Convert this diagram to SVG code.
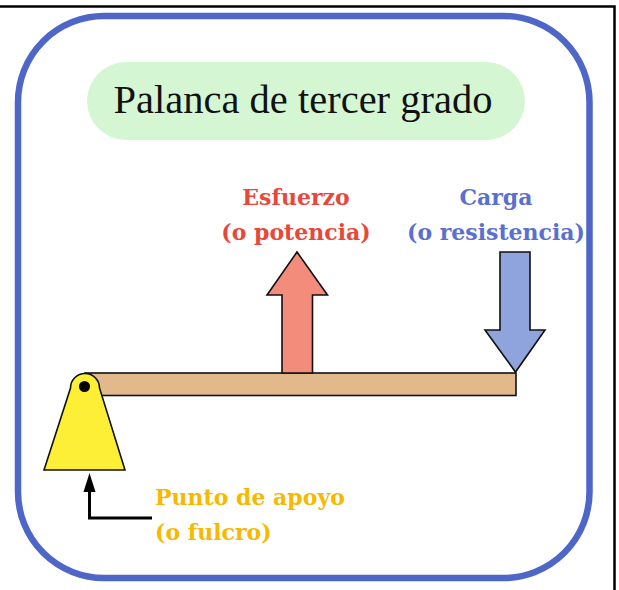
<svg xmlns="http://www.w3.org/2000/svg" width="619" height="590" viewBox="0 0 619 590">
<style>
.lbl{font-family:"DejaVu Serif",serif;font-weight:bold;font-size:22px;text-anchor:middle}
.lbl.start{text-anchor:start}
.shape{stroke:#111;stroke-width:1.6;stroke-linejoin:miter}
</style>
<rect width="619" height="590" fill="#ffffff"/>
<g id="frame">
<path d="M0,6.5 H614.5 V590" fill="none" stroke="#000" stroke-width="2.5"/>
</g>
<g id="border">
<rect x="18" y="16" width="571.5" height="562" rx="86" ry="86" fill="none" stroke="#4f66c9" stroke-width="6.5"/>
</g>
<g id="title">
<rect x="87" y="62" width="438" height="78" rx="39" ry="39" fill="#d5f6d3"/>
<text x="303" y="113" font-family="'Liberation Serif',serif" font-size="40.5" fill="#111" text-anchor="middle">Palanca de tercer grado</text>
</g>
<g id="beam">
<rect x="85" y="373" width="431" height="22.5" fill="#e2b98b" class="shape"/>
</g>
<g id="fulcrum">
<path d="M44,470 L70.5,388 A14.5,14.5 0 0 1 99.5,388 L125,470 Z" fill="#fdef36" class="shape"/>
<circle cx="84.5" cy="386.5" r="5.5" fill="#000"/>
</g>
<g id="effort">
<path d="M282,373 V295 H267 L297,252 L327.5,295 H312.5 V373 Z" fill="#f38c7b" class="shape"/>
<text class="lbl" x="296" y="205" fill="#e9473a">Esfuerzo</text>
<text class="lbl" x="296" y="240" fill="#e9473a">(o potencia)</text>
</g>
<g id="load">
<path d="M500,252 H530 V330 H545 L515.5,372 L485,330 H500 Z" fill="#8fa3dd" class="shape"/>
<text class="lbl" x="496" y="205" fill="#5a70cf">Carga</text>
<text class="lbl" x="496" y="240" fill="#5a70cf">(o resistencia)</text>
</g>
<g id="connectors">
<path d="M89.5,492 V518 H152" fill="none" stroke="#000" stroke-width="3"/>
<path d="M89.5,473 L95.5,492 H83.5 Z" fill="#000"/>
</g>
<g id="support-label">
<text class="lbl start" x="155" y="505" fill="#f7b900">Punto de apoyo</text>
<text class="lbl start" x="155" y="540" fill="#f7b900">(o fulcro)</text>
</g>
</svg>
